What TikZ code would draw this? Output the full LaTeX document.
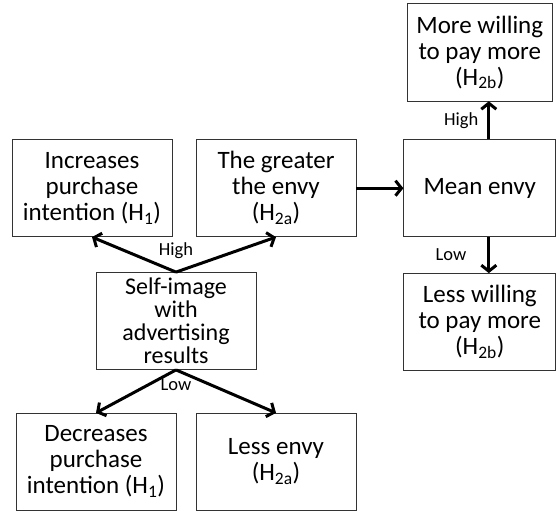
\documentclass[tikz,border=0pt]{standalone}
\usepackage{fontspec}
\setmainfont{Carlito}
\usetikzlibrary{arrows.meta,positioning}
\newcommand{\Hyp}[1]{(H\textsubscript{#1})}

\begin{document}
\begin{tikzpicture}[
  box/.style={draw=black!80, line width=0.8pt, minimum width=160pt, minimum height=97pt, align=center, inner sep=2pt, font=\fontsize{25pt}{26pt}\selectfont},
  lbl/.style={font=\fontsize{18.5pt}{20pt}\selectfont, inner sep=1pt},
  arrow/.style={-{Straight Barb[length=6pt, width=15pt]}, line width=3pt}
]
  \useasboundingbox (0,0) rectangle (556pt,-511pt);
  \node[box, font=\fontsize{24pt}{23pt}\selectfont] (self) at (176pt,-321pt) {Self-image\\with\\advertising\\results};
  \node[box, above=35pt of self, xshift=-84pt] (inc) {Increases\\purchase\\intention \Hyp{1}};
  \node[box, above=35pt of self, xshift=100pt] (greater) {The greater\\the envy\\\Hyp{2a}};
  \node[box, below=43pt of self, xshift=-80pt] (dec) {Decreases\\purchase\\intention \Hyp{1}};
  \node[box, below=43pt of self, xshift=100pt] (less) {Less envy\\\Hyp{2a}};
  \node[box, minimum width=152pt, right=47pt of greater] (mean) {Mean envy};
  \node[box, minimum width=145pt, above=38pt of mean] (more) {More willing\\to pay more\\\Hyp{2b}};
  \node[box, minimum width=152pt, below=36pt of mean] (lesswill) {Less willing\\to pay more\\\Hyp{2b}};

  \draw[arrow] (self.north) -- (inc.south);
  \draw[arrow] (self.north) -- (greater.south);
  \draw[arrow] (self.south) -- (dec.north);
  \draw[arrow] (self.south) -- (less.north);
  \draw[arrow] (greater) -- (mean);
  \draw[arrow] ([xshift=9pt]mean.north) -- node[lbl, left=8pt] (hi2) {High} ([xshift=9pt]more.south);
  \draw[arrow] ([xshift=9pt]mean.south) -- node[lbl, left=20pt] (lo2) {Low} ([xshift=9pt]lesswill.north);
  \node[lbl, above=12pt of self.north] (hi1) {High};
  \node[lbl, below=8pt of self.south] (lo1) {Low};
\end{tikzpicture}
\end{document}
